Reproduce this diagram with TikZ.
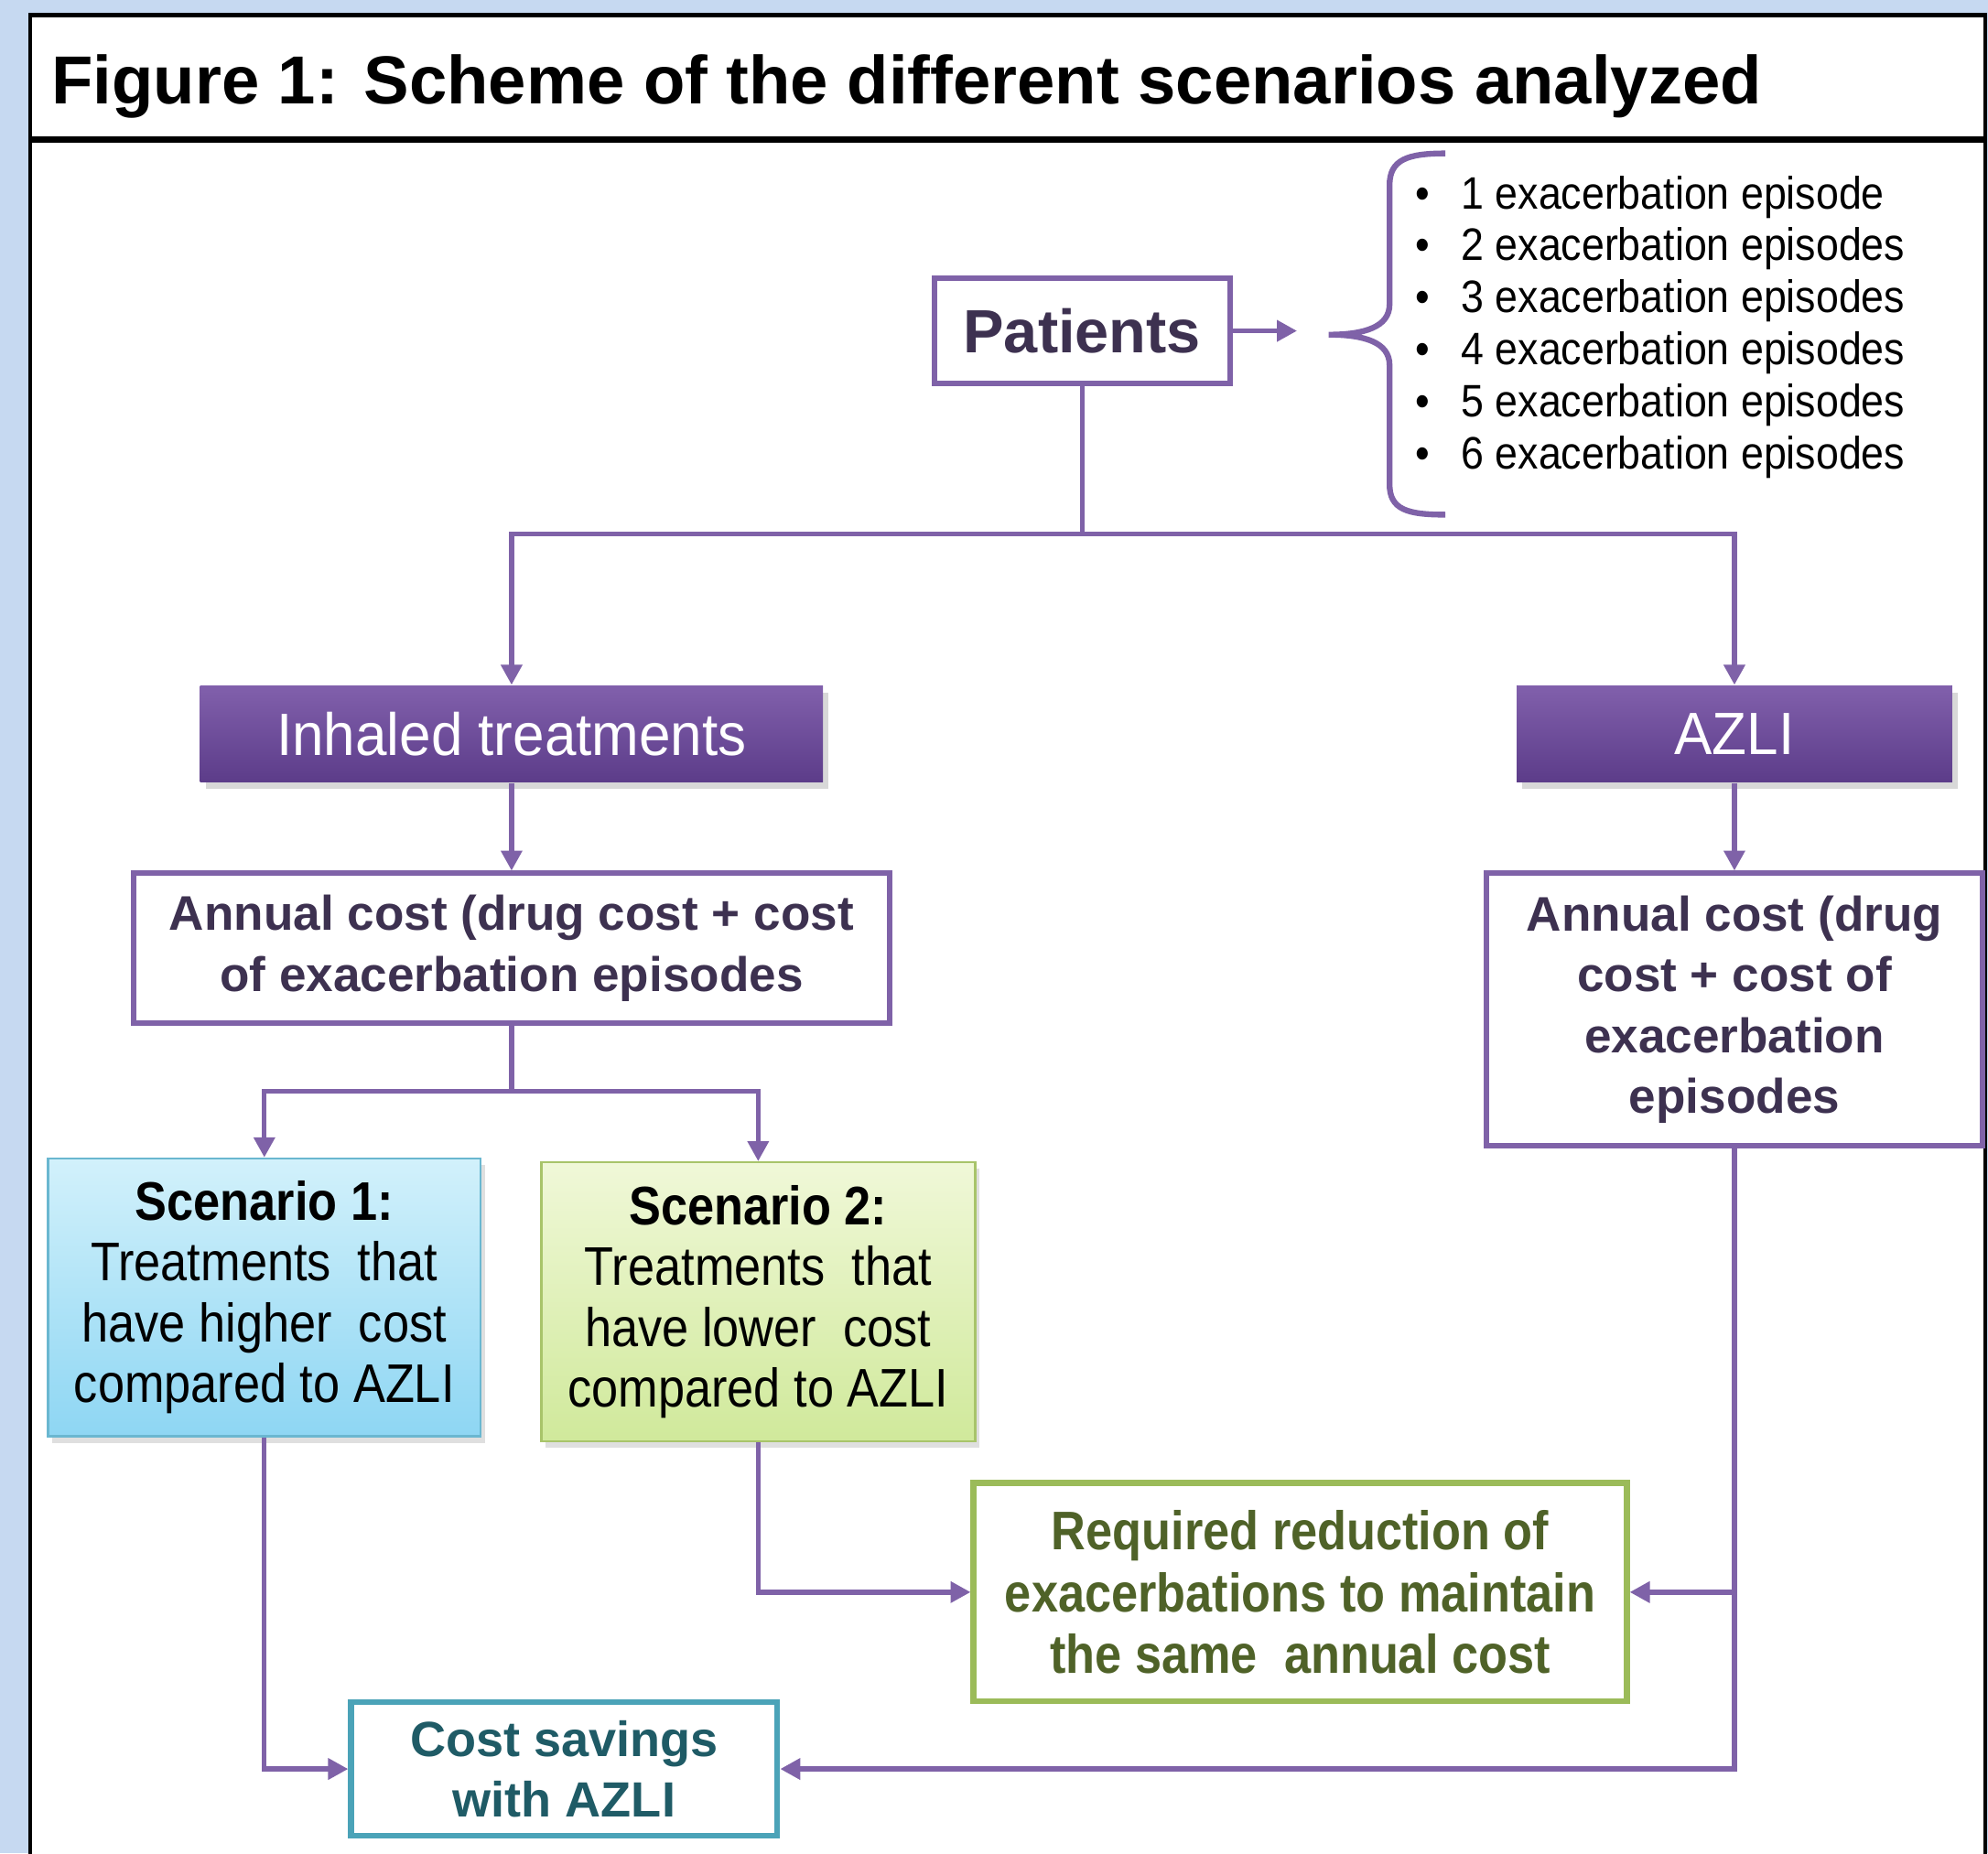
\documentclass[tikz,border=0pt]{standalone}
\usepackage{fontspec}
\setmainfont{Liberation Sans}
\newfontfamily\narrowf[FakeStretch=0.88]{Liberation Sans}
\newfontfamily\widef[FakeStretch=0.95]{Liberation Sans}
\newfontfamily\bulletf[FakeStretch=0.9]{Liberation Sans}
\usetikzlibrary{arrows.meta,shadows}
\definecolor{bgblue}{HTML}{C6D9F1}
\definecolor{pline}{HTML}{7F62A8}
\definecolor{ptext}{HTML}{3D3150}
\definecolor{ptop}{HTML}{8160AC}
\definecolor{pbot}{HTML}{5C3C89}
\definecolor{s1top}{HTML}{D2F1FB}
\definecolor{s1bot}{HTML}{8ED6F3}
\definecolor{s1line}{HTML}{6AB7D0}
\definecolor{s2top}{HTML}{F0F8D8}
\definecolor{s2bot}{HTML}{D0E99B}
\definecolor{s2line}{HTML}{A8C46A}
\definecolor{gline}{HTML}{9BBB59}
\definecolor{gtext}{HTML}{4F6228}
\definecolor{tline}{HTML}{4BA3B8}
\definecolor{ttext}{HTML}{1F5B66}
\tikzset{
  conn/.style={draw=pline, line width=1.1pt},
  arr/.style={conn, -{Triangle[length=4.5pt,width=4.6pt]}},
  wbox/.style={draw=pline, line width=1.2pt, fill=white, inner sep=0pt, align=center, text=ptext},
  pbox/.style={fill=pbot, top color=ptop, bottom color=pbot, inner sep=0pt, align=center, text=white,
    drop shadow={opacity=0.3, shadow xshift=1.2pt, shadow yshift=-1.5pt},
    font=\widef\fontsize{13.4}{16}\selectfont},
  scbox/.style={inner sep=0pt, align=center, text=black, line width=0.5pt,
    drop shadow={opacity=0.25, shadow xshift=1pt, shadow yshift=-1.5pt},
    font=\narrowf\fontsize{12.2}{13.66}\selectfont},
  annfont/.style={font=\bfseries\fontsize{10.9}{13.66}\selectfont},
}
\begin{document}
\begin{tikzpicture}[x=0.01cm, y=-0.01cm]
\clip (0,0) rectangle (1568,1462);
\fill[bgblue] (0,0) rectangle (1568,1462);
\draw[line width=0.9pt, fill=white] (24,12) rectangle (1566,1490);
\draw[line width=1.4pt] (24,110) -- (1566,110);
\node[anchor=base west, inner sep=0pt, font=\bfseries\fontsize{15.25}{18}\selectfont] (title) at (40,82)
  {Figure 1: Scheme of the different scenarios analyzed};

% nodes
\node[wbox, minimum width=2.33cm, minimum height=0.83cm, font=\bfseries\fontsize{13.7}{16}\selectfont] (pat) at (853.5,261) {Patients};
\coordinate (bt) at (1023,261);
\node[anchor=west, inner sep=0pt, align=left, font=\bulletf\fontsize{10.2}{11.67}\selectfont] (list) at (1116,258)
  {\makebox[10.2pt][l]{\textbullet}1 exacerbation episode\\
   \makebox[10.2pt][l]{\textbullet}2 exacerbation episodes\\
   \makebox[10.2pt][l]{\textbullet}3 exacerbation episodes\\
   \makebox[10.2pt][l]{\textbullet}4 exacerbation episodes\\
   \makebox[10.2pt][l]{\textbullet}5 exacerbation episodes\\
   \makebox[10.2pt][l]{\textbullet}6 exacerbation episodes};

\node[pbox, minimum width=4.91cm, minimum height=0.76cm] (inh) at (403.5,579) {Inhaled treatments};
\node[pbox, minimum width=3.43cm, minimum height=0.76cm] (azli) at (1368,579) {AZLI};

\node[wbox, annfont, minimum width=5.96cm, minimum height=1.18cm] (annL) at (403.5,748)
  {Annual cost (drug cost + cost\\of exacerbation episodes};
\node[wbox, annfont, minimum width=3.91cm, minimum height=2.15cm] (annR) at (1368,796.5)
  {Annual cost (drug\\cost + cost of\\exacerbation\\episodes};

\node[scbox, draw=s1line, top color=s1top, bottom color=s1bot, minimum width=3.41cm, minimum height=2.19cm] (s1) at (208.5,1023.5)
  {\textbf{Scenario 1:}\\Treatments\ \ that\\have higher\ \ cost\\compared to AZLI};
\node[scbox, draw=s2line, top color=s2top, bottom color=s2bot, minimum width=3.42cm, minimum height=2.2cm] (s2) at (598,1027)
  {\textbf{Scenario 2:}\\Treatments\ \ that\\have lower\ \ cost\\compared to AZLI};

\node[draw=gline, line width=1.3pt, fill=white, inner sep=0pt, align=center, text=gtext,
      font=\narrowf\bfseries\fontsize{12.2}{13.8}\selectfont, minimum width=5.15cm, minimum height=1.72cm] (req) at (1025.5,1256)
  {Required reduction of\\exacerbations to maintain\\the same\ \ annual cost};
\node[draw=tline, line width=1.3pt, fill=white, inner sep=0pt, align=center, text=ttext,
      font=\bfseries\fontsize{11.1}{13.4}\selectfont, minimum width=3.36cm, minimum height=1.05cm] (cost) at (445,1395.5)
  {Cost savings\\with AZLI};

% brace
\draw[pline, line width=1.3pt] (1140,121) .. controls (1110,121) and (1096,126) .. (1096,146) -- (1096,240)
   .. controls (1096,258) and (1076,264) .. (1048,264)
   .. controls (1076,264) and (1096,270) .. (1096,288) -- (1096,382)
   .. controls (1096,402) and (1110,406) .. (1140,406);

% connectors
\draw[arr] (pat.east) -- (bt);
\coordinate (j1) at (853.5,421);
\draw[conn] (pat.south) -- (j1);
\draw[arr] (j1) -| (inh.north);
\draw[arr] (j1) -| (azli.north);
\draw[arr] (inh.south) -- (annL.north);
\draw[arr] (azli.south) -- (annR.north);
\coordinate (j2) at (403.5,861);
\draw[conn] (annL.south) -- (j2);
\draw[arr] (j2) -| (s1.north);
\draw[arr] (j2) -| (s2.north);
\draw[arr] (s2.south) |- (req.west);
\draw[arr] (annR.south) |- (cost.east);
\coordinate (j3) at (annR.south |- req.east);
\draw[arr] (j3) -- (req.east);
\draw[arr] (s1.south) |- (cost.west);
\end{tikzpicture}
\end{document}
